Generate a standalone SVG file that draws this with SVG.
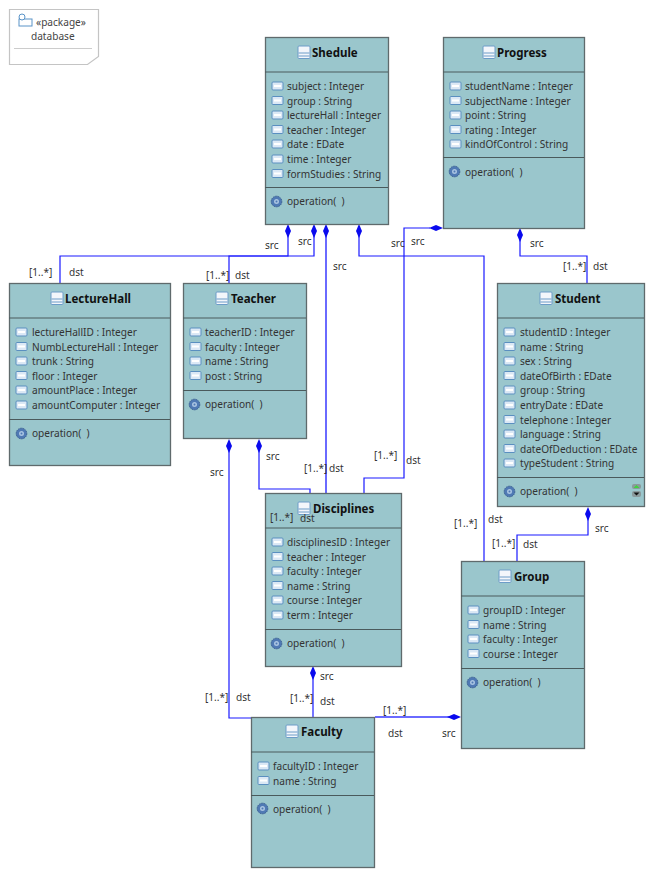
<svg xmlns="http://www.w3.org/2000/svg" xmlns:xlink="http://www.w3.org/1999/xlink" width="653" height="877" viewBox="0 0 653 877">
<style>
text{font-family:"Noto Sans","DejaVu Sans",sans-serif;font-size:10.100px;fill:#333;white-space:pre}
.box{fill:#9ac6cc;stroke:#5f6a6c;stroke-width:1.3}
.sep{stroke:#4a5a5c;stroke-width:1}
.t{font-weight:700;font-size:11.500px;fill:#111}
.l{fill:#444}
.c{fill:none;stroke:#1a1aff;stroke-width:1.2}
.c2{fill:none;stroke:#6a6aff;stroke-width:2}
.d{fill:#0a0aee}
</style>
<defs>
<g id="attr"><rect x="0" y="0" width="11" height="8" rx="1" fill="#dbe8f5" stroke="#5a8fc0"/><rect x="2" y="3" width="7" height="2" fill="#fff"/></g>
<g id="cls"><rect x="0" y="0" width="12" height="12.500" rx="1" fill="#f3f6fb" stroke="#6d9cc8"/><path d="M0.500 7H11.500M0.500 10H11.500" stroke="#6d9cc8"/></g>
<g id="op"><circle cx="5.500" cy="5.500" r="5.300" fill="#4f79b4" stroke="#35598f" stroke-dasharray="1.500 0.800"/><circle cx="5.500" cy="5.500" r="2.500" fill="#a9c4e2"/><circle cx="5.500" cy="5.500" r="1" fill="#4f79b4"/></g>
<path id="dv" class="d" d="M0 -7L3 0L0 7L-3 0Z"/>
</defs>

<g id="package">
<path d="M9.500 9.500H98.500V56.500L87.500 64.500H9.500Z" fill="#fff" stroke="#c4c4c4" stroke-width="1.200"/>
<line x1="14" y1="48.500" x2="92" y2="48.500" stroke="#ccc"/>
<rect x="19" y="19" width="13" height="7" fill="#fff" stroke="#5a94c8"/>
<circle cx="22" cy="17" r="3" fill="#fff" stroke="#5a94c8"/>
<text x="36" y="26" class="l">«package»</text>
<text x="31" y="40" class="l">database</text>
</g>

<g id="connectors">
<path class="c" d="M288 231V256H60V283"/>
<path class="c" d="M314 231V256H229V283"/>
<path class="c2" d="M326 231V493"/>
<path class="c" d="M359 231V256H484V561"/>
<path class="c" d="M430 228H404V478H364V493"/>
<path class="c" d="M520 235V256H587V283"/>
<path class="c" d="M588 514V535H517V561"/>
<path class="c" d="M259 446V489H310V493"/>
<path class="c" d="M229 446V718H251"/>
<path class="c" d="M313 673V717"/>
<path class="c2" d="M375 717H455"/>
<use xlink:href="#dv" x="288" y="231"/>
<use xlink:href="#dv" x="314" y="231"/>
<use xlink:href="#dv" x="326" y="231"/>
<use xlink:href="#dv" x="359" y="231"/>
<use xlink:href="#dv" transform="translate(436 228) rotate(90)"/>
<use xlink:href="#dv" x="520" y="235"/>
<use xlink:href="#dv" x="588" y="514"/>
<use xlink:href="#dv" x="259" y="446"/>
<use xlink:href="#dv" x="229" y="446"/>
<use xlink:href="#dv" x="313" y="673"/>
<use xlink:href="#dv" transform="translate(454 717) rotate(90)"/>
</g>

<g id="Shedule">
<rect class="box" x="265.500" y="37.500" width="123" height="187"/>
<path class="sep" d="M265 72H388M265 187.500H388"/>
<use xlink:href="#cls" x="298" y="46"/><text class="t" x="312" y="57">Shedule</text>
<use xlink:href="#attr" x="272" y="82"/><text x="287" y="90">subject : Integer</text>
<use xlink:href="#attr" x="272" y="96.500"/><text x="287" y="104.500">group : String</text>
<use xlink:href="#attr" x="272" y="111"/><text x="287" y="119">lectureHall : Integer</text>
<use xlink:href="#attr" x="272" y="125.500"/><text x="287" y="133.500">teacher : Integer</text>
<use xlink:href="#attr" x="272" y="140"/><text x="287" y="148">date : EDate</text>
<use xlink:href="#attr" x="272" y="155"/><text x="287" y="163">time : Integer</text>
<use xlink:href="#attr" x="272" y="169.500"/><text x="287" y="177.500">formStudies : String</text>
<use xlink:href="#op" x="271" y="196"/><text x="287" y="205">operation(  )</text>
</g>

<g id="Progress">
<rect class="box" x="443.500" y="37.500" width="141" height="191"/>
<path class="sep" d="M443 72H584M443 157.500H584"/>
<use xlink:href="#cls" x="483" y="46"/><text class="t" x="497" y="57">Progress</text>
<use xlink:href="#attr" x="450" y="82"/><text x="465" y="90">studentName : Integer</text>
<use xlink:href="#attr" x="450" y="96.500"/><text x="465" y="104.500">subjectName : Integer</text>
<use xlink:href="#attr" x="450" y="111"/><text x="465" y="119">point : String</text>
<use xlink:href="#attr" x="450" y="125.500"/><text x="465" y="133.500">rating : Integer</text>
<use xlink:href="#attr" x="450" y="140"/><text x="465" y="148">kindOfControl : String</text>
<use xlink:href="#op" x="449" y="166"/><text x="465" y="176">operation(  )</text>
</g>

<g id="LectureHall">
<rect class="box" x="9.500" y="283.500" width="161" height="182"/>
<path class="sep" d="M9 318H170M9 419.500H170"/>
<use xlink:href="#cls" x="51" y="292"/><text class="t" x="65" y="303">LectureHall</text>
<use xlink:href="#attr" x="16" y="328"/><text x="32" y="336">lectureHallID : Integer</text>
<use xlink:href="#attr" x="16" y="342.500"/><text x="32" y="350.500">NumbLectureHall : Integer</text>
<use xlink:href="#attr" x="16" y="357"/><text x="32" y="365">trunk : String</text>
<use xlink:href="#attr" x="16" y="371.500"/><text x="32" y="379.500">floor : Integer</text>
<use xlink:href="#attr" x="16" y="386"/><text x="32" y="394">amountPlace : Integer</text>
<use xlink:href="#attr" x="16" y="401"/><text x="32" y="409">amountComputer : Integer</text>
<use xlink:href="#op" x="16" y="428"/><text x="32" y="437">operation(  )</text>
</g>

<g id="Teacher">
<rect class="box" x="183.500" y="283.500" width="123" height="155"/>
<path class="sep" d="M183 318H306M183 390.500H306"/>
<use xlink:href="#cls" x="216" y="292"/><text class="t" x="231" y="303">Teacher</text>
<use xlink:href="#attr" x="190" y="328"/><text x="205" y="336">teacherID : Integer</text>
<use xlink:href="#attr" x="190" y="342.500"/><text x="205" y="350.500">faculty : Integer</text>
<use xlink:href="#attr" x="190" y="357"/><text x="205" y="365">name : String</text>
<use xlink:href="#attr" x="190" y="371.500"/><text x="205" y="379.500">post : String</text>
<use xlink:href="#op" x="189" y="399"/><text x="205" y="408">operation(  )</text>
</g>

<g id="Student">
<rect class="box" x="497.500" y="283.500" width="147" height="223"/>
<path class="sep" d="M497 318H644M497 477.500H644"/>
<use xlink:href="#cls" x="540" y="292"/><text class="t" x="555" y="303">Student</text>
<use xlink:href="#attr" x="504" y="328"/><text x="520" y="336">studentID : Integer</text>
<use xlink:href="#attr" x="504" y="342.500"/><text x="520" y="350.500">name : String</text>
<use xlink:href="#attr" x="504" y="357"/><text x="520" y="365">sex : String</text>
<use xlink:href="#attr" x="504" y="371.500"/><text x="520" y="379.500">dateOfBirth : EDate</text>
<use xlink:href="#attr" x="504" y="386"/><text x="520" y="394">group : String</text>
<use xlink:href="#attr" x="504" y="401"/><text x="520" y="409">entryDate : EDate</text>
<use xlink:href="#attr" x="504" y="415.500"/><text x="520" y="423.500">telephone : Integer</text>
<use xlink:href="#attr" x="504" y="430"/><text x="520" y="438">language : String</text>
<use xlink:href="#attr" x="504" y="444.500"/><text x="520" y="452.500">dateOfDeduction : EDate</text>
<use xlink:href="#attr" x="504" y="459"/><text x="520" y="467">typeStudent : String</text>
<use xlink:href="#op" x="504" y="486"/><text x="520" y="495">operation(  )</text>
<rect x="632" y="484" width="9" height="5" rx="2" fill="#8a9a9c"/><rect x="632" y="491" width="9" height="6" rx="2" fill="#8a9a9c"/>
<path d="M633.500 488L636.500 485L639.500 488Z" fill="#3fd33f"/><path d="M633.500 492.500H639.500L636.500 495.500Z" fill="#111"/>
</g>

<g id="Disciplines">
<rect class="box" x="265.500" y="493.500" width="136" height="173"/>
<path class="sep" d="M265 528H401M265 629.500H401"/>
<use xlink:href="#cls" x="298" y="502"/><text class="t" x="313" y="513">Disciplines</text>
<use xlink:href="#attr" x="272" y="538"/><text x="287" y="546">disciplinesID : Integer</text>
<use xlink:href="#attr" x="272" y="552.500"/><text x="287" y="560.500">teacher : Integer</text>
<use xlink:href="#attr" x="272" y="567"/><text x="287" y="575">faculty : Integer</text>
<use xlink:href="#attr" x="272" y="581.500"/><text x="287" y="589.500">name : String</text>
<use xlink:href="#attr" x="272" y="596"/><text x="287" y="604">course : Integer</text>
<use xlink:href="#attr" x="272" y="611"/><text x="287" y="619">term : Integer</text>
<use xlink:href="#op" x="271" y="638"/><text x="287" y="647">operation(  )</text>
</g>

<g id="Group">
<rect class="box" x="461.500" y="561.500" width="123" height="187"/>
<path class="sep" d="M461 596H584M461 668.500H584"/>
<use xlink:href="#cls" x="499" y="570"/><text class="t" x="514" y="581">Group</text>
<use xlink:href="#attr" x="468" y="606"/><text x="483" y="614">groupID : Integer</text>
<use xlink:href="#attr" x="468" y="620.500"/><text x="483" y="628.500">name : String</text>
<use xlink:href="#attr" x="468" y="635"/><text x="483" y="643">faculty : Integer</text>
<use xlink:href="#attr" x="468" y="649.500"/><text x="483" y="657.500">course : Integer</text>
<use xlink:href="#op" x="467" y="677"/><text x="483" y="686">operation(  )</text>
</g>

<g id="Faculty">
<rect class="box" x="251.500" y="717.500" width="123" height="150"/>
<path class="sep" d="M251 752H374M251 795.500H374"/>
<use xlink:href="#cls" x="286" y="725"/><text class="t" x="301" y="736">Faculty</text>
<use xlink:href="#attr" x="258" y="762"/><text x="273" y="770">facultyID : Integer</text>
<use xlink:href="#attr" x="258" y="776.500"/><text x="273" y="784.500">name : String</text>
<use xlink:href="#op" x="257" y="803"/><text x="273" y="813">operation(  )</text>
</g>

<g id="conn-labels">
<text x="265" y="249">src</text><text x="298" y="245">src</text><text x="333" y="270">src</text><text x="391" y="247">src</text><text x="411" y="245">src</text><text x="530" y="247">src</text>
<text x="29" y="276">[1..*]</text><text x="69" y="276">dst</text>
<text x="206" y="279">[1..*]</text><text x="235" y="279">dst</text>
<text x="563" y="270">[1..*]</text><text x="593" y="270">dst</text>
<text x="210" y="476">src</text><text x="266" y="460">src</text>
<text x="304" y="472">[1..*]</text><text x="329" y="472">dst</text>
<text x="374" y="459">[1..*]</text><text x="406" y="464">dst</text>
<text x="270" y="521">[1..*]</text><text x="300" y="522">dst</text>
<text x="454" y="527">[1..*]</text><text x="488" y="523">dst</text>
<text x="595" y="532">src</text><text x="492" y="547">[1..*]</text><text x="523" y="548">dst</text>
<text x="320" y="680">src</text>
<text x="205" y="701">[1..*]</text><text x="236" y="701">dst</text>
<text x="290" y="702">[1..*]</text><text x="320" y="705">dst</text>
<text x="383" y="714">[1..*]</text><text x="388" y="737">dst</text><text x="442" y="737">src</text>
</g>
</svg>
